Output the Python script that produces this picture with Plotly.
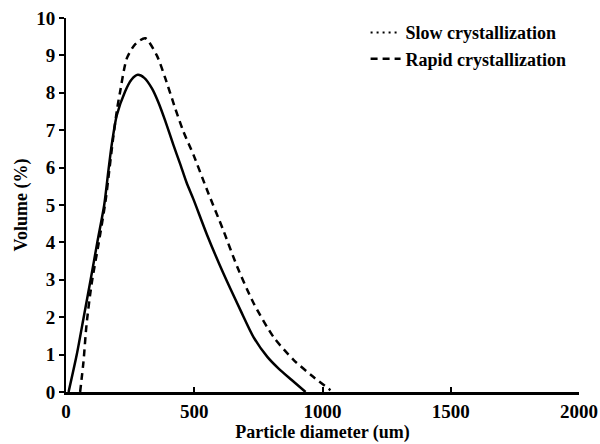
import plotly.graph_objects as go

# Data
slow_x = [10, 42, 69, 96, 122, 149, 165, 178, 198, 230, 255, 280, 305, 335, 360, 387, 419, 445,
          470, 497, 550, 613, 680, 731, 785, 830, 880, 934]
slow_y = [0, 1.0, 2.0, 3.0, 4.0, 5.0, 5.9, 6.6, 7.4, 8.03, 8.35, 8.48, 8.4, 8.12, 7.75, 7.25, 6.6, 6.1,
          5.6, 5.15, 4.2, 3.18, 2.19, 1.47, 0.94, 0.62, 0.32, 0.0]

rapid_x = [55, 68, 80, 100, 128, 154, 170, 184, 200, 211, 237, 270, 309, 354, 387, 426, 458, 497,
           550, 613, 668, 731, 809, 887, 965, 1031]
rapid_y = [0, 0.8, 1.8, 2.9, 4.0, 5.1, 6.0, 6.8, 7.6, 8.03, 8.92, 9.3, 9.46, 9.0, 8.39, 7.58, 6.96, 6.34,
           5.4, 4.33, 3.34, 2.38, 1.47, 0.86, 0.4, 0.05]

x_ticks = [0, 500, 1000, 1500, 2000]
y_ticks = [0, 1, 2, 3, 4, 5, 6, 7, 8, 9, 10]

FONT = "Liberation Serif"

fig = go.Figure()
fig.add_trace(go.Scatter(
    x=slow_x, y=slow_y, mode="lines", name="Slow crystallization",
    line=dict(color="black", width=2.5, shape="spline", smoothing=0.7),
    showlegend=False, legendgroup="slow",
))
fig.add_trace(go.Scatter(
    x=[None], y=[None], mode="lines", name="Slow crystallization",
    line=dict(color="black", width=2, dash="2px,4px"),
    legendgroup="slow",
))
fig.add_trace(go.Scatter(
    x=rapid_x, y=rapid_y, mode="lines", name="Rapid crystallization",
    line=dict(color="black", width=2.5, dash="7px,5px", shape="spline", smoothing=0.7),
))

fig.update_layout(
    width=600, height=444,
    margin=dict(l=66, r=21, t=18, b=52, autoexpand=False),
    plot_bgcolor="white", paper_bgcolor="white",
    font=dict(family=FONT, color="black", size=19, weight="bold"),
    showlegend=True,
    legend=dict(
        x=0.584, y=1.01, xanchor="left", yanchor="top",
        bgcolor="rgba(0,0,0,0)", borderwidth=0,
        font=dict(family=FONT, size=18, color="black", weight="bold"),
        tracegroupgap=0, itemwidth=30,
    ),
    xaxis=dict(
        range=[0, 2000], tickvals=x_ticks, ticktext=[str(v) for v in x_ticks],
        showgrid=False, zeroline=False, showline=True, linecolor="black", linewidth=3,
        ticks="inside", ticklen=5, tickwidth=2, tickcolor="black", automargin=False,
        ticklabeloverflow="allow",
        tickfont=dict(family=FONT, size=19, weight="bold"),
        title=dict(text="Particle diameter (um)", standoff=5,
                   font=dict(family=FONT, size=18, weight="bold")),
    ),
    yaxis=dict(
        range=[0, 10], tickvals=y_ticks, ticktext=[str(v) for v in y_ticks],
        showgrid=False, zeroline=False, showline=True, linecolor="black", linewidth=2,
        ticks="outside", ticklen=5, tickwidth=2, tickcolor="black", automargin=False,
        ticklabeloverflow="allow",
        tickfont=dict(family=FONT, size=19, weight="bold"),
        title=dict(text="Volume (%)", standoff=4,
                   font=dict(family=FONT, size=18, weight="bold")),
    ),
)

fig.write_html(
    "out.html",
    config={"displayModeBar": False},
    post_script="document.body.style.margin='0';document.body.style.overflow='hidden';",
)
